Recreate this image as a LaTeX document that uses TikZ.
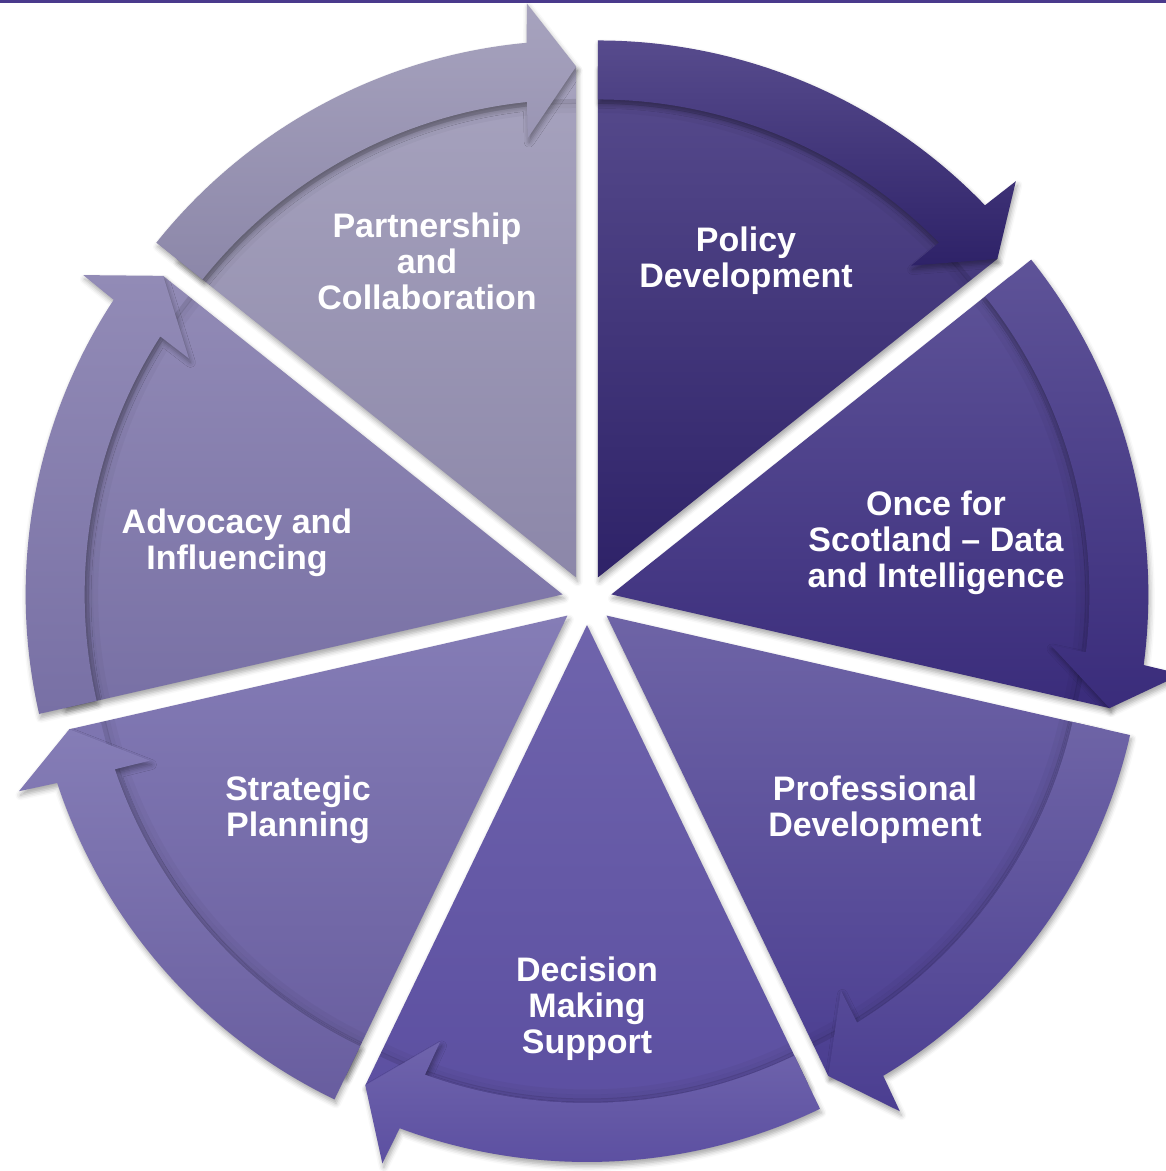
\documentclass[tikz,border=0pt]{standalone}
\usepackage{fontspec}
\setmainfont{Liberation Sans}
\usetikzlibrary{calc,shadows.blur}

% segment colours: top / bottom of each vertical shading
\definecolor{topbar}{HTML}{4A3A8C}
\definecolor{c0t}{HTML}{574B8D}\definecolor{c0b}{HTML}{2E2268}
\definecolor{c1t}{HTML}{5E5398}\definecolor{c1b}{HTML}{3A2C7B}
\definecolor{c2t}{HTML}{6E64A6}\definecolor{c2b}{HTML}{4B3E91}
\definecolor{c3t}{HTML}{6F64AC}\definecolor{c3b}{HTML}{5A4DA0}
\definecolor{c4t}{HTML}{857DB6}\definecolor{c4b}{HTML}{685D9F}
\definecolor{c5t}{HTML}{928BB6}\definecolor{c5b}{HTML}{7870A5}
\definecolor{c6t}{HTML}{A7A3BE}\definecolor{c6b}{HTML}{8C87A9}

\begin{document}
\begin{tikzpicture}[x=1pt,y=1pt,
  seglabel/.style={text=white, font=\bfseries\fontsize{34}{36}\selectfont,
    align=center, inner sep=0pt},
  segshadow/.style={blur shadow={shadow xshift=1.5pt, shadow yshift=-4pt,
    shadow blur radius=5pt, shadow opacity=35}}]
\useasboundingbox (0,0) rectangle (1166,1171);
\fill[topbar] (0,1167.5) rectangle (1166,1171);
\coordinate (O) at (587,571);

% seven exploded pie segments, each with a clockwise arrow band on its rim
\foreach \k/\ct/\cb in {0/c0t/c0b,1/c1t/c1b,2/c2t/c2b,3/c3t/c3b,
                        4/c4t/c4b,5/c5t/c5b,6/c6t/c6b} {
  \pgfmathsetmacro{\s}{90-\k*360/7}
  \pgfmathsetmacro{\e}{\s-360/7}
  \pgfmathsetmacro{\m}{\s-180/7}
  \pgfmathsetmacro{\ea}{\e+5.3}
  \pgfmathsetmacro{\eb}{\e+4.9}
  \pgfmathsetmacro{\ec}{\e+6.3}
  \pgfmathsetmacro{\ed}{\e+5.9}
  \begin{scope}[shift={($(O)+(\m:25)$)}]
    % wedge
    \path[segshadow, top color=\ct, bottom color=\cb]
      (0,0) -- (\s:511) arc[start angle=\s, end angle=\e, radius=511] -- cycle;
    % soft shade under the inner edge of the band
    \begin{scope}
      \clip (0,0) -- (\s:511) arc[start angle=\s, end angle=\e, radius=511] -- cycle;
      \foreach \r/\o in {476/0.10,472/0.06,467/0.03}
        \draw[black, opacity=\o, line width=5pt]
          (\s:\r) arc[start angle=\s, end angle=\e, radius=\r];
    \end{scope}
    % arrow band
    \path[segshadow, top color=\ct, bottom color=\cb]
      (\s:537) arc[start angle=\s, end angle=\ea, radius=537]
      -- (\eb:576) -- (\e:511) -- (\ec:442) -- (\ed:478)
      arc[start angle=\ed, end angle=\s, radius=478] -- cycle;
  \end{scope}
}

\node[seglabel] (policy) at (746,910) {Policy\\Development};
\node[seglabel] (once) at (936,628) {Once for\\Scotland \textendash{} Data\\and Intelligence};
\node[seglabel] (prof) at (875,361) {Professional\\Development};
\node[seglabel] (decision) at (587,162) {Decision\\Making\\Support};
\node[seglabel] (strategic) at (298,361) {Strategic\\Planning};
\node[seglabel] (advocacy) at (237,628) {Advocacy and\\Influencing};
\node[seglabel] (partner) at (427,910) {Partnership\\and\\Collaboration};
\end{tikzpicture}
\end{document}
